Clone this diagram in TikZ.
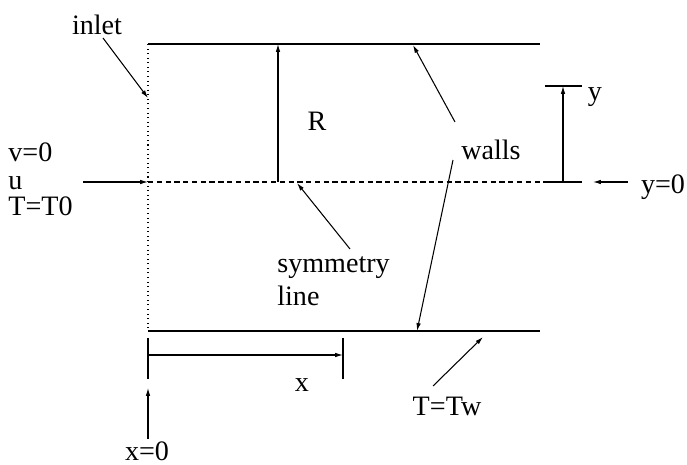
\documentclass[tikz,border=0pt]{standalone}
\usepackage{fontspec}
\setmainfont{Liberation Serif}
\usetikzlibrary{arrows.meta}

\begin{document}
\begin{tikzpicture}[x=0.02cm, y=-0.02cm, >={Latex[length=4.5pt,width=2.6pt]},
    lbl/.style={font=\fontsize{16}{19}\selectfont, inner sep=0pt},
    wall/.style={line width=0.85pt},
    pointer/.style={->, line width=0.6pt}]

    \useasboundingbox (0,0) rectangle (687,465);

    % ================= Channel =================
    \coordinate (TL) at (148,44);
    \coordinate (TR) at (540,44);
    \coordinate (BL) at (148,331);
    \coordinate (BR) at (540,331);
    \coordinate (C0) at (148,182);
    \coordinate (C1) at (545,182);

    % Walls
    \draw[wall] (TL) -- (TR);
    \draw[wall] (BL) -- (BR);

    % Inlet (dotted) and symmetry line (dashed)
    \draw[dotted, line width=0.6pt] (TL) -- (BL);
    \draw[dash pattern=on 3pt off 2pt, line width=0.6pt] (C0) -- (C1);

    % ================= Inlet =================
    \node[lbl] (inlet) at (97,25) {inlet};
    \coordinate (inletTip) at (148,98);
    \draw[pointer] (103,38) -- (inletTip);

    \node[lbl, anchor=base west] (v0) at (8,162) {v=0};
    \node[lbl, anchor=base west] (u) at (8,190) {u};
    \node[lbl, anchor=base west] (T0) at (8,216) {T=T0};
    \coordinate (inflow) at (83,182);
    \draw[pointer] (inflow) -- (C0);

    % ================= Radius =================
    \coordinate (Rbot) at (278,182);
    \coordinate (Rtop) at (278,44);
    \draw[pointer] (Rbot) -- (Rtop);
    \node[lbl] (R) at (317,121) {R};

    % ================= Symmetry line =================
    \node[lbl, anchor=west, align=left] (sym) at (277,281)
        {symmetry\\line};
    \coordinate (symTail) at (350,249);
    \coordinate (symTip) at (297,183);
    \draw[pointer] (symTail) -- (symTip);

    % ================= Walls =================
    \node[lbl] (walls) at (491,150) {walls};
    \coordinate (wallTop) at (413,45);
    \coordinate (wallBot) at (417,331);
    \draw[pointer] (455,122) -- (wallTop);
    \draw[pointer] (453,160) -- (wallBot);

    % ================= y coordinate =================
    \coordinate (ytop) at (563,86);
    \coordinate (ybot) at (563,182);
    \draw[line width=0.6pt] (545,86) -- (582,86);
    \draw[line width=0.6pt] (C1) -- (582,182);
    \draw[pointer] (ybot) -- (ytop);
    \node[lbl] (y) at (595,97) {y};

    \node[lbl] (y0) at (663,187) {y=0};
    \coordinate (y0tip) at (593,182);
    \draw[pointer] (628,182) -- (y0tip);

    % ================= x coordinate =================
    \coordinate (xa) at (148,355);
    \coordinate (xb) at (343,355);
    \draw[line width=0.6pt] (148,338) -- (148,379);
    \draw[line width=0.6pt] (343,338) -- (343,379);
    \draw[pointer] (xa) -- (xb);
    \node[lbl] (x) at (302,385) {x};

    \node[lbl, anchor=base] (x0) at (147,461) {x=0};
    \coordinate (x0tip) at (148,388);
    \draw[pointer] (148,439) -- (x0tip);

    % ================= Wall temperature =================
    \node[lbl] (Tw) at (447,406) {T=Tw};
    \coordinate (Twtip) at (483,337);
    \draw[pointer] (433,386) -- (Twtip);

\end{tikzpicture}
\end{document}
